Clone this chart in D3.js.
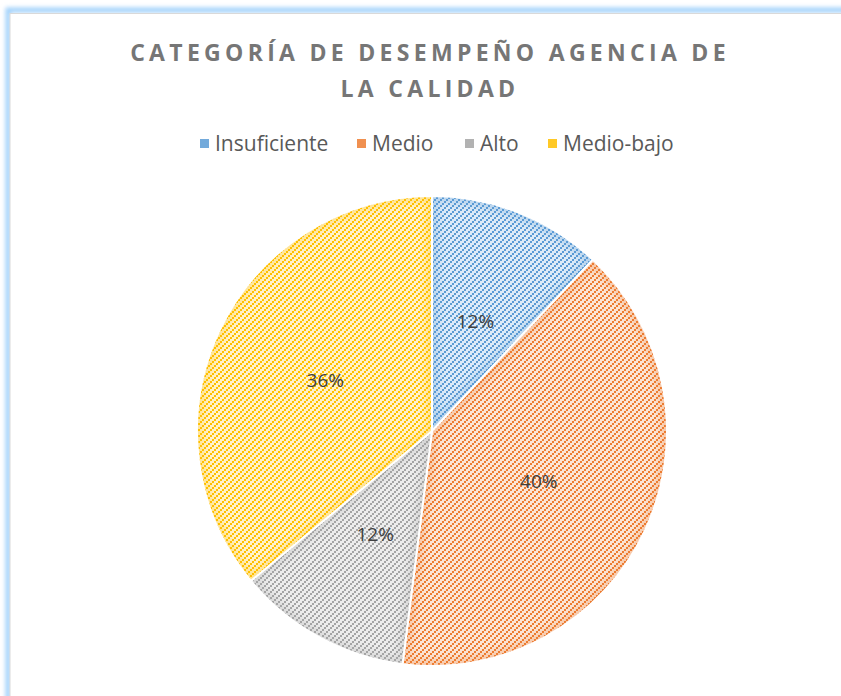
<!DOCTYPE html>
<html>
<head>
<meta charset="utf-8">
<script src="https://cdn.jsdelivr.net/npm/d3@7"></script>
<style>
  body { margin: 0; background: #fff; }
  svg { display: block; }
</style>
</head>
<body>
<div id="chart"></div>
<script>
const categories = ['Insuficiente', 'Medio', 'Alto', 'Medio-bajo'];
const values = [12, 40, 12, 36];
const colors = ['#5B9BD5', '#ED7D31', '#A5A5A5', '#FFC000'];
const lightColors = ['#DEEBF7', '#FBE5D6', '#EDEDED', '#FFF2CC'];
const titleLines = ['CATEGORÍA DE DESEMPEÑO AGENCIA DE', 'LA CALIDAD'];

const width = 841;
const height = 696;
const cx = 432;
const cy = 431;
const radius = 235;

const svg = d3.select('#chart').append('svg')
  .attr('width', width)
  .attr('height', height);

const defs = svg.append('defs');

// blur for the frame glow and slice edges
defs.append('filter').attr('id', 'glow')
  .attr('x', '-10%').attr('y', '-10%').attr('width', '120%').attr('height', '120%')
  .append('feGaussianBlur').attr('stdDeviation', 2);
defs.append('filter').attr('id', 'soft')
  .append('feGaussianBlur').attr('stdDeviation', 4);

// hatched patterns, one per series
categories.forEach((c, i) => {
  const p = defs.append('pattern')
    .attr('id', `pat${i}`)
    .attr('patternUnits', 'userSpaceOnUse')
    .attr('width', 6)
    .attr('height', 6);
  p.append('rect').attr('width', 6).attr('height', 6).attr('fill', lightColors[i]);
  [[0, 4], [2, 2], [4, 0]].forEach(([x, y]) => {
    p.append('rect').attr('x', x).attr('y', y).attr('width', 2).attr('height', 2)
      .attr('fill', colors[i]);
  });
});

// chart frame with blue glow
svg.append('rect')
  .attr('x', 8).attr('y', 10)
  .attr('width', 900).attr('height', 800)
  .attr('fill', 'none')
  .attr('stroke', '#9fd0fb')
  .attr('stroke-width', 5)
  .attr('filter', 'url(#glow)');
svg.append('rect')
  .attr('x', 10).attr('y', 13.5)
  .attr('width', 900).attr('height', 800)
  .attr('fill', '#fff')
  .attr('stroke', '#d9d9d9')
  .attr('stroke-width', 1);

// title
svg.append('text')
  .attr('text-anchor', 'middle')
  .attr('font-family', 'Open Sans, sans-serif')
  .attr('font-weight', 'bold')
  .attr('font-size', 23)
  .attr('letter-spacing', 4.3)
  .attr('fill', '#767676')
  .selectAll('tspan')
  .data(titleLines)
  .enter().append('tspan')
  .attr('x', 430)
  .attr('y', (d, i) => 61 + i * 36)
  .text((d) => d);

// legend
const legendX = [200, 357, 465, 548];
const legend = svg.append('g')
  .attr('font-family', 'Open Sans, sans-serif')
  .attr('font-size', 21)
  .attr('fill', '#595959');
legend.selectAll('rect')
  .data(categories)
  .enter().append('rect')
  .attr('x', (d, i) => legendX[i])
  .attr('y', 139)
  .attr('width', 9)
  .attr('height', 9)
  .attr('fill', (d, i) => colors[i])
  .attr('opacity', 0.85);
legend.selectAll('text')
  .data(categories)
  .enter().append('text')
  .attr('x', (d, i) => legendX[i] + 15)
  .attr('y', 151)
  .text((d) => d);

// pie
const pie = d3.pie().sort(null).value((d) => d.value);
const arcs = pie(categories.map((c, i) => ({ name: c, value: values[i], i })));
const arc = d3.arc().innerRadius(0).outerRadius(radius);
const labelArc = d3.arc().innerRadius(118).outerRadius(118);

const g = svg.append('g').attr('transform', `translate(${cx},${cy})`);

arcs.forEach((a, k) => {
  defs.append('clipPath').attr('id', `clip${k}`)
    .append('path').attr('d', arc(a));
});

const slices = g.selectAll('.slice')
  .data(arcs)
  .enter().append('g')
  .attr('class', 'slice');

slices.append('path')
  .attr('d', arc)
  .attr('fill', (d) => `url(#pat${d.data.i})`);

// soft coloured edge inside each slice
slices.append('g')
  .attr('clip-path', (d, k) => `url(#clip${k})`)
  .append('path')
  .attr('d', arc)
  .attr('fill', 'none')
  .attr('stroke', (d) => colors[d.data.i])
  .attr('stroke-width', 10)
  .attr('opacity', 0.35)
  .attr('filter', 'url(#soft)');

slices.append('path')
  .attr('d', arc)
  .attr('fill', 'none')
  .attr('stroke', '#fff')
  .attr('stroke-width', 2);

g.selectAll('.label')
  .data(arcs)
  .enter().append('text')
  .attr('class', 'label')
  .attr('transform', (d) => `translate(${labelArc.centroid(d)})`)
  .attr('text-anchor', 'middle')
  .attr('dy', '0.35em')
  .attr('font-family', 'Open Sans, sans-serif')
  .attr('font-size', 19)
  .attr('fill', '#404040')
  .text((d) => `${d.data.value}%`);
</script>
</body>
</html>
